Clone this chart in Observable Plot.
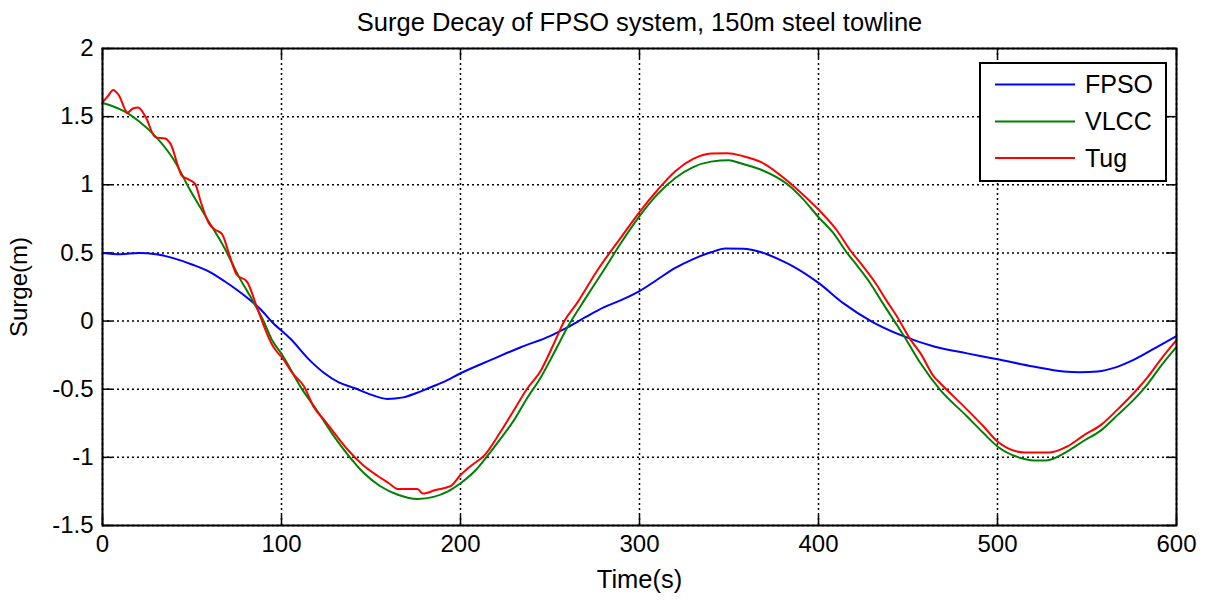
<!DOCTYPE html>
<html>
<head>
<meta charset="utf-8">
<script src="https://cdn.jsdelivr.net/npm/d3@7"></script>
<script src="https://cdn.jsdelivr.net/npm/@observablehq/plot@0.6"></script>
<style>
  html, body { margin: 0; padding: 0; background: #fff; }
  svg { display: block; }
</style>
</head>
<body>
<script>
// ---- data ----
const title = "Surge Decay of FPSO system, 150m steel towline";
const xLabel = "Time(s)";
const yLabel = "Surge(m)";
const xTicks = [0, 100, 200, 300, 400, 500, 600];
const yTicks = [-1.5, -1, -0.5, 0, 0.5, 1, 1.5, 2];
const seriesNames = ["FPSO", "VLCC", "Tug"];
const seriesColors = ["#0000ff", "#008000", "#ff0000"];

const fpsoT = [0, 10, 20, 30, 40, 50, 60, 68, 75, 81, 88, 95, 105, 116, 124, 132, 141, 150, 159, 168, 175, 182, 190, 200, 217, 234, 250, 260, 270, 280, 290, 300, 310, 320, 330, 340, 348, 358, 368, 380, 386, 400, 414, 430, 446, 465, 483, 500, 520, 537, 546, 556, 566, 576, 591, 600];
const fpsoV = [0.50, 0.49, 0.50, 0.49, 0.46, 0.415, 0.36, 0.294, 0.23, 0.17, 0.09, -0.01, -0.13, -0.29, -0.383, -0.45, -0.493, -0.54, -0.571, -0.56, -0.53, -0.493, -0.45, -0.383, -0.285, -0.19, -0.11, -0.045, 0.03, 0.1, 0.155, 0.22, 0.305, 0.39, 0.455, 0.505, 0.532, 0.53, 0.505, 0.44, 0.40, 0.28, 0.13, -0.005, -0.103, -0.188, -0.237, -0.28, -0.334, -0.37, -0.375, -0.37, -0.34, -0.285, -0.176, -0.11];

const vlccT = [0, 5, 12, 20, 30, 40, 49, 58, 68, 76, 84, 90, 95, 100, 111, 120, 128, 137, 146, 155, 165, 176, 185, 193, 200, 208, 215, 222, 230, 237, 245, 252, 260, 270, 280, 290, 300, 310, 320, 330, 340, 350, 356, 368, 383, 391, 400, 408, 416, 422, 429, 435, 442, 448, 457, 468, 483, 492, 500, 513, 520, 527, 539, 548, 558, 567, 576, 584, 591, 600];
const vlccV = [1.60, 1.58, 1.54, 1.47, 1.35, 1.18, 0.96, 0.76, 0.54, 0.33, 0.147, 0.0, -0.147, -0.24, -0.49, -0.66, -0.82, -0.98, -1.115, -1.21, -1.274, -1.305, -1.29, -1.25, -1.19, -1.10, -0.99, -0.87, -0.725, -0.57, -0.41, -0.24, -0.04, 0.17, 0.373, 0.58, 0.77, 0.93, 1.05, 1.13, 1.17, 1.18, 1.16, 1.11, 1.0, 0.90, 0.763, 0.65, 0.50, 0.40, 0.276, 0.15, 0.007, -0.115, -0.31, -0.505, -0.70, -0.82, -0.92, -1.005, -1.023, -1.023, -0.957, -0.88, -0.80, -0.69, -0.578, -0.46, -0.335, -0.19];

const tugT = [0, 3, 6, 9, 14, 17, 20, 24, 29.6, 35, 38, 44.4, 48, 51.8, 55, 59.3, 63, 66.7, 71, 75, 80.7, 86.3, 90, 95, 101, 106, 112.6, 118, 123.8, 130, 137, 145, 153.6, 160, 165, 176, 179, 186, 194.6, 200, 207, 213, 222, 230, 237, 245, 252, 258, 265, 276.5, 290, 300, 310, 320, 330, 340, 349, 358, 368, 384.5, 392, 400, 410, 418, 425, 432, 438, 444, 451.6, 457, 464.6, 468, 483, 492, 500, 515, 529, 539, 548, 558, 567, 576, 584, 591, 600];
const tugV = [1.605, 1.65, 1.696, 1.66, 1.53, 1.56, 1.568, 1.50, 1.348, 1.34, 1.30, 1.066, 1.04, 1.005, 0.87, 0.72, 0.67, 0.64, 0.48, 0.34, 0.29, 0.10, -0.03, -0.18, -0.28, -0.38, -0.48, -0.63, -0.725, -0.83, -0.944, -1.05, -1.135, -1.19, -1.232, -1.232, -1.266, -1.24, -1.21, -1.13, -1.05, -0.99, -0.82, -0.65, -0.50, -0.36, -0.17, 0.0, 0.13, 0.373, 0.62, 0.80, 0.96, 1.10, 1.19, 1.23, 1.232, 1.21, 1.166, 1.008, 0.92, 0.818, 0.67, 0.515, 0.40, 0.276, 0.15, 0.03, -0.14, -0.237, -0.41, -0.456, -0.65, -0.77, -0.884, -0.964, -0.964, -0.92, -0.84, -0.76, -0.65, -0.53, -0.41, -0.285, -0.14];

// ---- build tables ----
const toRows = (T, V) => T.map((t, i) => ({t, v: V[i]}));
const seriesRows = [toRows(fpsoT, fpsoV), toRows(vlccT, vlccV), toRows(tugT, tugV)];

const W = 1210, H = 602;
const mL = 102, mR = 34, mT = 48, mB = 77;
const innerW = W - mL - mR, innerH = H - mT - mB;
const font = "'Liberation Sans', Arial, Helvetica, sans-serif";
const tickLen = 10;
const gridDash = "2,3";

const chart = Plot.plot({
  width: W,
  height: H,
  marginLeft: mL,
  marginRight: mR,
  marginTop: mT,
  marginBottom: mB,
  style: {fontFamily: font, fontSize: "24px", color: "#000", background: "#fff", overflow: "visible"},
  x: {domain: [0, 600], ticks: xTicks},
  y: {domain: [-1.5, 2], ticks: yTicks},
  marks: [
    // dotted grid
    Plot.ruleX(xTicks, {stroke: "#000", strokeWidth: 1.5, strokeDasharray: gridDash, strokeOpacity: 1}),
    Plot.ruleY(yTicks, {stroke: "#000", strokeWidth: 1.5, strokeDasharray: gridDash, strokeOpacity: 1}),
    // inward ticks
    Plot.ruleX(xTicks, {stroke: "#000", strokeWidth: 1.5, insetTop: innerH - tickLen}),
    Plot.ruleX(xTicks, {stroke: "#000", strokeWidth: 1.5, insetBottom: innerH - tickLen}),
    Plot.ruleY(yTicks, {stroke: "#000", strokeWidth: 1.5, insetRight: innerW - tickLen}),
    Plot.ruleY(yTicks, {stroke: "#000", strokeWidth: 1.5, insetLeft: innerW - tickLen}),
    // axes labels
    Plot.axisX({anchor: "bottom", ticks: xTicks, tickSize: 0, tickPadding: 9, label: null, tickFormat: d => String(d), fontSize: 24}),
    Plot.axisY({anchor: "left", ticks: yTicks, tickSize: 0, tickPadding: 9, label: null, tickFormat: d => String(d), fontSize: 24}),
    // data lines
    ...seriesRows.map((rows, i) =>
      Plot.line(rows, {x: "t", y: "v", stroke: seriesColors[i], strokeWidth: 2, curve: "monotone-x"})
    ),
    // frame
    Plot.frame({stroke: "#000", strokeWidth: 2}),
    // title & axis titles
    Plot.text([title], {frameAnchor: "top", textAnchor: "middle", lineAnchor: "middle", dy: 22 - mT, fontSize: 25.5, fill: "#000"}),
    Plot.text([xLabel], {frameAnchor: "bottom", textAnchor: "middle", lineAnchor: "middle", dy: 579 - (H - mB), fontSize: 25.5, fill: "#000"}),
    Plot.text([yLabel], {frameAnchor: "left", textAnchor: "middle", lineAnchor: "middle", rotate: -90, dx: 19 - mL, fontSize: 24, fill: "#000"})
  ]
});

// legend box (layout only)
const svg = d3.select(chart);
const lg = svg.append("g").attr("font-family", font).attr("font-size", 25).attr("text-anchor", "start");
const lx = 980, ly = 63, lw = 186, lh = 118;
lg.append("rect").attr("x", lx).attr("y", ly).attr("width", lw).attr("height", lh)
  .attr("fill", "#fff").attr("stroke", "#000").attr("stroke-width", 2);
const rowY = [84.5, 121.5, 158];
seriesNames.forEach((name, i) => {
  lg.append("line").attr("x1", 995).attr("x2", 1075).attr("y1", rowY[i]).attr("y2", rowY[i])
    .attr("stroke", seriesColors[i]).attr("stroke-width", 2);
  lg.append("text").attr("x", 1085).attr("y", rowY[i]).attr("dy", "0.35em")
    .attr("text-anchor", "start").attr("fill", "#000").text(name);
});

document.body.appendChild(chart);
</script>
</body>
</html>
